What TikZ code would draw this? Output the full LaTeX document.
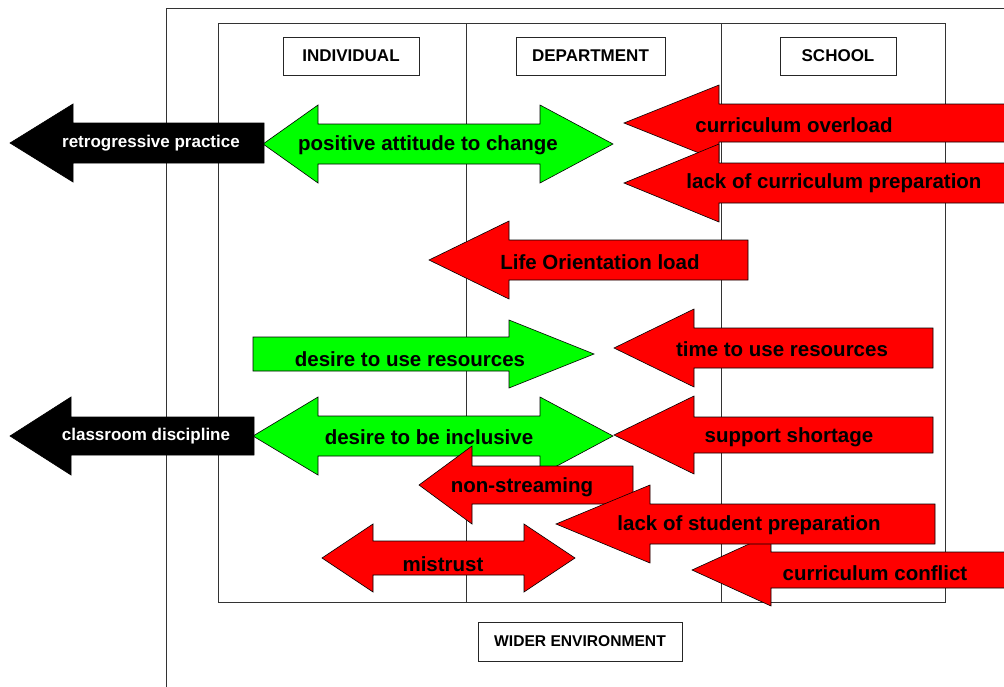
\documentclass[tikz,border=0pt]{standalone}
\usepackage{fontspec}
\setmainfont{Liberation Sans}
\newcommand\myarrow[7]{% style, tipx, cy, basex, endx, headhalf, shafthalf
  \path[#1] (#2,#3) -- (#4,{#3-#6}) -- (#4,{#3-#7}) -- (#5,{#3-#7}) -- (#5,{#3+#7}) -- (#4,{#3+#7}) -- (#4,{#3+#6}) -- cycle;}
\newcommand\mydarrow[8]{% style, ltip, cy, lbase, rbase, rtip, headhalf, shafthalf
  \path[#1] (#2,#3) -- (#4,{#3-#7}) -- (#4,{#3-#8}) -- (#5,{#3-#8}) -- (#5,{#3-#7}) -- (#6,#3) -- (#5,{#3+#7}) -- (#5,{#3+#8}) -- (#4,{#3+#8}) -- (#4,{#3+#7}) -- cycle;}
\begin{document}
\begin{tikzpicture}[x=1pt,y=-1pt,
  frame/.style={draw=black!80, line width=0.9pt},
  hdr/.style={draw=black!85, line width=0.9pt, fill=white, font=\fontsize{17}{20}\selectfont\bfseries, minimum height=38pt, inner sep=0pt},
  arr/.style={draw=black, line width=0.6pt},
  redarr/.style={arr, fill=red},
  greenarr/.style={arr, fill=green},
  blackarr/.style={arr, fill=black},
  lbl/.style={font=\fontsize{20.5}{24}\selectfont\bfseries, inner sep=0pt},
  wlbl/.style={font=\fontsize{17}{20}\selectfont\bfseries, text=white, inner sep=0pt}]
\useasboundingbox (0,0) rectangle (1004,686);
% frames
\draw[frame] (166,690) -- (166,8) -- (1010,8);
\draw[frame] (218,23) rectangle (945,602);
\draw[frame] (466,23) -- (466,602);
\draw[frame] (721,23) -- (721,602);
% headers
\node[hdr, minimum width=136pt] (individual) at (351,56) {INDIVIDUAL};
\node[hdr, minimum width=149pt] (department) at (590.5,56) {DEPARTMENT};
\node[hdr, minimum width=116pt] (school) at (838,56) {SCHOOL};
\node[hdr, minimum width=204pt, minimum height=39pt, font=\fontsize{15.6}{18}\selectfont\bfseries] (wider) at (580,641.5) {WIDER ENVIRONMENT};
% green arrows
\mydarrow{greenarr}{263}{144}{318}{540}{613}{39}{20}
\node[lbl] (positive) at (428,145) {positive attitude to change};
\myarrow{greenarr}{594}{354}{509}{253}{34}{17}
\node[lbl] (resources) at (410,359) {desire to use resources};
\mydarrow{greenarr}{253}{436}{318}{540}{613}{39}{20}
\node[lbl] (inclusive) at (429,437) {desire to be inclusive};
% black arrows
\myarrow{blackarr}{10}{143}{73}{264}{39}{20}
\node[wlbl] (retro) at (151,143) {retrogressive practice};
\myarrow{blackarr}{10}{436}{71}{254}{39}{19}
\node[wlbl] (discipline) at (146,436) {classroom discipline};
% red arrows
\myarrow{redarr}{624}{123}{719}{1012}{38}{19}
\node[lbl] (overload) at (794,125) {curriculum overload};
\myarrow{redarr}{624}{183}{719}{1012}{39}{20}
\node[lbl] (currprep) at (834,183) {lack of curriculum preparation};
\myarrow{redarr}{429}{260}{509}{748}{39}{20}
\node[lbl] (lifeor) at (600,262) {Life Orientation load};
\myarrow{redarr}{614}{348}{694}{933}{39}{20}
\node[lbl] (time) at (782,349) {time to use resources};
\myarrow{redarr}{614}{435}{694}{933}{39}{18}
\node[lbl] (support) at (789,437) {support shortage};
\myarrow{redarr}{419}{485}{472}{633}{39}{19}
\node[lbl] (nonstream) at (522,487) {non-streaming};
\myarrow{redarr}{692}{570}{771}{1012}{36}{18}
\node[lbl] (conflict) at (875,573) {curriculum conflict};
\myarrow{redarr}{556}{524}{650}{935}{39}{20}
\node[lbl] (studprep) at (749,525) {lack of student preparation};
\mydarrow{redarr}{322}{558}{373}{524}{575}{34}{17}
\node[lbl] (mistrust) at (443,564) {mistrust};
\end{tikzpicture}
\end{document}
